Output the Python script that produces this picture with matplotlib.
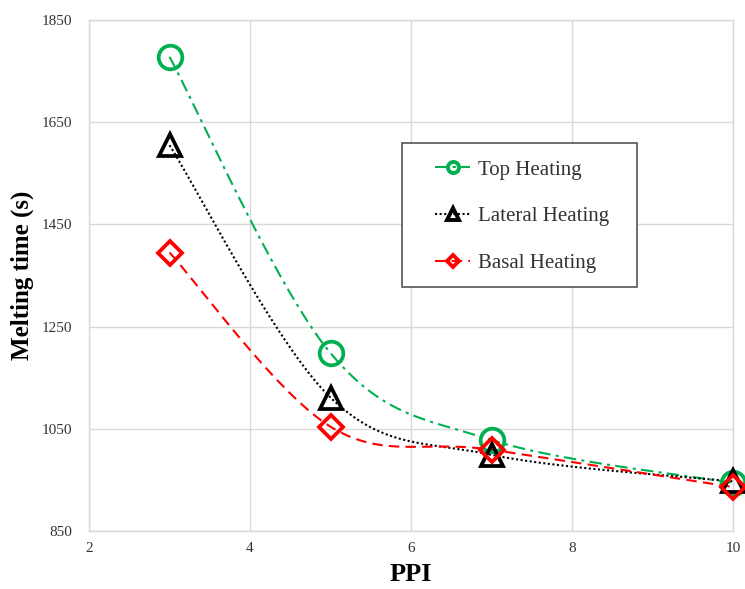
import numpy as np
import matplotlib
matplotlib.use('Agg')
import matplotlib.pyplot as plt
from matplotlib.lines import Line2D
from matplotlib.patches import Rectangle

ppi = [3, 5, 7, 10]
top_heating = [1778, 1198, 1028, 944]
lateral_heating = [1605, 1111, 999, 947]
basal_heating = [1395, 1054, 1009, 936]

plt.rcParams['font.family'] = ['Liberation Serif', 'DejaVu Serif']


def smooth(x, y, n=60):
    # catmull-rom style smoothing, like excel "smoothed line"
    x = np.asarray(x, float)
    y = np.asarray(y, float)
    px = np.concatenate([[x[0]], x, [x[-1]]])
    py = np.concatenate([[y[0]], y, [y[-1]]])
    xs, ys = [], []
    for i in range(1, len(px) - 2):
        p0, p1, p2, p3 = (np.array([px[j], py[j]]) for j in (i - 1, i, i + 1, i + 2))
        c1 = p1 + (p2 - p0) / 6.0
        c2 = p2 - (p3 - p1) / 6.0
        t = np.linspace(0, 1, n)[:, None]
        b = ((1 - t) ** 3) * p1 + 3 * ((1 - t) ** 2) * t * c1 + 3 * (1 - t) * t ** 2 * c2 + t ** 3 * p2
        xs.append(b[:, 0])
        ys.append(b[:, 1])
    return np.concatenate(xs), np.concatenate(ys)


fig = plt.figure(figsize=(7.45, 5.89), dpi=100)
ax = fig.add_axes([0.1195, 0.0985, 0.8645, 0.8675])

green = '#00b050'
series = [
    (top_heating, green, (0, (6, 2.5, 1.5, 2.5)), 'o', 17, 'Top Heating'),
    (lateral_heating, 'black', (0, (1, 1.2)), '^', 16, 'Lateral Heating'),
    (basal_heating, '#ff0000', (0, (5, 3)), 'D', 12.5, 'Basal Heating'),
]

handles = []
for vals, col, ls, mk, ms, lab in series:
    sx, sy = smooth(ppi, vals)
    ax.plot(sx, sy, color=col, linestyle=ls, linewidth=1.5, zorder=2)
    ax.plot(ppi, vals, linestyle='none', marker=mk, markersize=ms,
            markerfacecolor='none', markeredgecolor=col, markeredgewidth=2.7,
            zorder=3, clip_on=False)
    handles.append(Line2D([0], [0], color=col, linestyle=ls, linewidth=1.5,
                          marker=mk, markersize=8 if mk != 'D' else 6.5,
                          markerfacecolor='none',
                          markeredgecolor=col, markeredgewidth=2.8))

ax.set_xlim(2, 10)
ax.set_ylim(850, 1850)
ax.set_xticks([2, 4, 6, 8, 10])
ax.set_yticks([850, 1050, 1250, 1450, 1650, 1850])
ax.grid(True, color='#d9d9d9', linewidth=1.0)
ax.set_axisbelow(True)
for s in ax.spines.values():
    s.set_color('#d9d9d9')
    s.set_linewidth(1.0)
ax.tick_params(length=0, labelsize=11, colors='#333333')
ax.tick_params(axis='y', pad=12)
ax.tick_params(axis='x', pad=8)

ax.set_xlabel('PPI', fontsize=19, fontweight='bold', labelpad=6)
ax.set_ylabel('Melting time (s)', fontsize=18, fontweight='bold', labelpad=6)

# legend frame drawn separately so the entries can sit inset like the original
ax.add_patch(Rectangle((0.486, 0.477), 0.365, 0.282, transform=ax.transAxes,
                       facecolor='white', edgecolor='#555555', linewidth=1.2, zorder=4))
leg = ax.legend(handles, [s[5] for s in series], loc='upper left',
                bbox_to_anchor=(0.537, 0.726), frameon=False, fontsize=15,
                handlelength=1.7, handletextpad=0.35, labelspacing=1.3,
                borderpad=0, borderaxespad=0)
leg.set_zorder(5)
for t in leg.get_texts():
    t.set_color('#333333')

plt.savefig('out.png', dpi=100)
